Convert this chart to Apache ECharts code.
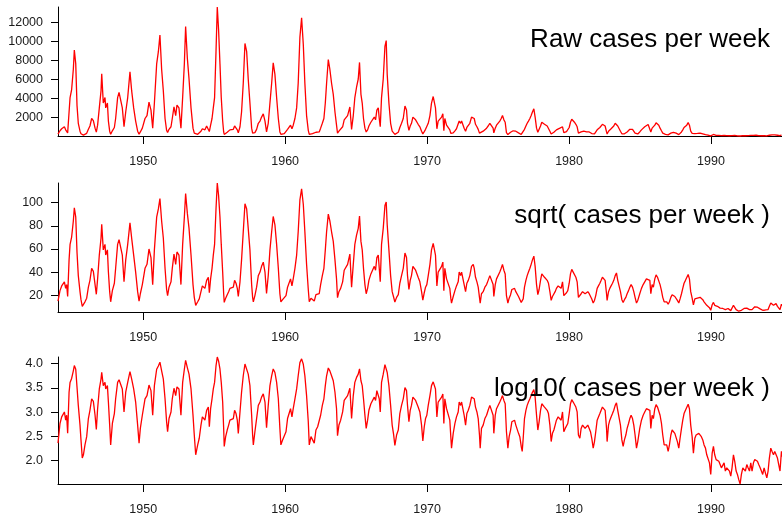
<!DOCTYPE html>
<html>
<head>
<meta charset="utf-8">
<script src="https://cdn.jsdelivr.net/npm/echarts@6/dist/echarts.min.js"></script>
<style>
  html, body { margin: 0; padding: 0; background: #fff; }
  #chart { width: 782px; height: 516px; }
</style>
</head>
<body>
<div id="chart"></div>
<script>
// weekly measles cases (decimal year, cases)
const years = [
  1944.00, 1944.14, 1944.26, 1944.38, 1944.45, 1944.54, 1944.61, 1944.68, 1944.78, 1944.85, 1944.96,
  1945.08, 1945.15, 1945.25, 1945.34, 1945.43, 1945.55, 1945.62, 1945.71, 1945.79, 1945.90,
  1946.02, 1946.14, 1946.25, 1946.37, 1946.49, 1946.61, 1946.70, 1946.79, 1946.91,
  1947.03, 1947.08, 1947.19, 1947.31, 1947.36, 1947.48, 1947.55, 1947.64, 1947.71, 1947.83, 1947.97,
  1948.06, 1948.20, 1948.30, 1948.41, 1948.53, 1948.65, 1948.77, 1948.91,
  1949.07, 1949.19, 1949.33, 1949.47, 1949.61, 1949.71, 1949.80, 1949.94,
  1950.13, 1950.27, 1950.41, 1950.55, 1950.67, 1950.79, 1950.95,
  1951.07, 1951.18, 1951.30, 1951.42, 1951.54, 1951.65, 1951.72, 1951.82, 1951.96,
  1952.05, 1952.17, 1952.29, 1952.38, 1952.52, 1952.66, 1952.78, 1952.90, 1952.99,
  1953.11, 1953.23, 1953.37, 1953.51, 1953.60, 1953.70, 1953.84, 1953.95,
  1954.07, 1954.17, 1954.35, 1954.47, 1954.59, 1954.66, 1954.75, 1954.85, 1954.94,
  1955.03, 1955.13, 1955.22, 1955.31, 1955.41, 1955.50, 1955.60, 1955.67, 1955.71, 1955.81, 1955.92,
  1956.02, 1956.11, 1956.23, 1956.35, 1956.44, 1956.54, 1956.63, 1956.70, 1956.82, 1956.93,
  1957.05, 1957.17, 1957.29, 1957.40, 1957.52, 1957.64, 1957.71, 1957.76, 1957.87, 1957.99,
  1958.11, 1958.23, 1958.34, 1958.46, 1958.58, 1958.69, 1958.81, 1958.93,
  1959.05, 1959.16, 1959.28, 1959.40, 1959.52, 1959.63, 1959.70, 1959.82, 1959.94,
  1960.06, 1960.17, 1960.29, 1960.38, 1960.48, 1960.57, 1960.69, 1960.81, 1960.92,
  1961.04, 1961.16, 1961.28, 1961.39, 1961.51, 1961.63, 1961.70, 1961.82, 1961.93,
  1962.05, 1962.17, 1962.29, 1962.40, 1962.50, 1962.62, 1962.73, 1962.83, 1962.92,
  1963.04, 1963.15, 1963.27, 1963.39, 1963.51, 1963.62, 1963.69, 1963.79, 1963.91,
  1964.05, 1964.16, 1964.28, 1964.40, 1964.56, 1964.68, 1964.80, 1964.91,
  1965.03, 1965.15, 1965.24, 1965.34, 1965.43, 1965.52, 1965.62, 1965.71, 1965.81, 1965.90,
  1966.04, 1966.18, 1966.28, 1966.37, 1966.46, 1966.56, 1966.63, 1966.70, 1966.79, 1966.91,
  1967.03, 1967.12, 1967.19, 1967.31, 1967.43, 1967.54, 1967.64, 1967.73, 1967.85, 1967.97,
  1968.08, 1968.20, 1968.32, 1968.44, 1968.55, 1968.62, 1968.72, 1968.81, 1968.90,
  1969.00, 1969.09, 1969.19, 1969.28, 1969.37, 1969.49, 1969.61, 1969.70, 1969.80, 1969.89, 1969.98,
  1970.08, 1970.20, 1970.31, 1970.43, 1970.50, 1970.59, 1970.69, 1970.78, 1970.90,
  1971.02, 1971.11, 1971.18, 1971.25, 1971.37, 1971.49, 1971.60, 1971.67, 1971.72, 1971.84, 1971.96,
  1972.07, 1972.19, 1972.26, 1972.36, 1972.43, 1972.52, 1972.61, 1972.71, 1972.80, 1972.90,
  1973.01, 1973.13, 1973.25, 1973.32, 1973.41, 1973.51, 1973.60, 1973.69, 1973.74, 1973.83, 1973.95,
  1974.07, 1974.19, 1974.30, 1974.42, 1974.54, 1974.65, 1974.70, 1974.80, 1974.89,
  1975.01, 1975.12, 1975.22, 1975.31, 1975.41, 1975.50, 1975.59, 1975.69, 1975.78, 1975.88, 1975.97,
  1976.06, 1976.16, 1976.25, 1976.34, 1976.44, 1976.53, 1976.63, 1976.70, 1976.77, 1976.86, 1976.96,
  1977.05, 1977.14, 1977.24, 1977.33, 1977.42, 1977.52, 1977.61, 1977.71, 1977.80, 1977.89, 1977.99,
  1978.08, 1978.18, 1978.27, 1978.36, 1978.46, 1978.55, 1978.65, 1978.74, 1978.83, 1978.93,
  1979.02, 1979.11, 1979.23, 1979.35, 1979.44, 1979.54, 1979.63, 1979.73, 1979.82, 1979.91,
  1980.01, 1980.10, 1980.19, 1980.29, 1980.38, 1980.48, 1980.57, 1980.66, 1980.76, 1980.85, 1980.95,
  1981.04, 1981.13, 1981.23, 1981.32, 1981.42, 1981.51, 1981.60, 1981.70, 1981.79, 1981.88, 1981.98,
  1982.07, 1982.17, 1982.26, 1982.35, 1982.45, 1982.54, 1982.64, 1982.68, 1982.78, 1982.87, 1982.96,
  1983.06, 1983.15, 1983.25, 1983.34, 1983.43, 1983.53, 1983.62, 1983.72, 1983.81, 1983.90,
  1984.00, 1984.09, 1984.19, 1984.28, 1984.37, 1984.47, 1984.56, 1984.65, 1984.75, 1984.84, 1984.98,
  1985.10, 1985.22, 1985.33, 1985.45, 1985.57, 1985.69, 1985.76, 1985.85, 1985.94,
  1986.04, 1986.13, 1986.23, 1986.32, 1986.41, 1986.51, 1986.60, 1986.70, 1986.79, 1986.88, 1986.98,
  1987.07, 1987.17, 1987.26, 1987.35, 1987.45, 1987.54, 1987.63, 1987.73, 1987.82, 1987.92,
  1988.01, 1988.10, 1988.20, 1988.29, 1988.39, 1988.48, 1988.57, 1988.67, 1988.76, 1988.86, 1988.95,
  1989.04, 1989.14, 1989.23, 1989.32, 1989.42, 1989.51, 1989.61, 1989.70, 1989.79, 1989.89, 1989.98,
  1990.08, 1990.17, 1990.26, 1990.36, 1990.45, 1990.55, 1990.64, 1990.73, 1990.83, 1990.92,
  1991.01, 1991.11, 1991.20, 1991.30, 1991.39, 1991.48, 1991.58, 1991.67, 1991.77, 1991.86, 1991.95,
  1992.05, 1992.14, 1992.24, 1992.33, 1992.42, 1992.52, 1992.61, 1992.71, 1992.80, 1992.89, 1992.99,
  1993.08, 1993.17, 1993.27, 1993.36, 1993.46, 1993.55, 1993.64, 1993.74, 1993.83, 1993.93,
  1994.02, 1994.11, 1994.21, 1994.30, 1994.40, 1994.49, 1994.58, 1994.68, 1994.77, 1994.86, 1994.96,
  1995.00
];
const cases = [
  229, 583, 796, 736, 1007, 681, 861, 365, 2565, 4090, 4940,
  7080, 9100, 7640, 3240, 1375, 540, 267, 113, 132, 211,
  312, 736, 1089, 1880, 1660, 861, 440, 1175, 3000,
  4790, 6600, 3510, 4090, 3000, 3510, 1610, 540, 211, 583, 931,
  1880, 4090, 4640, 4430, 3000, 1007, 2565, 4090,
  6800, 4790, 3000, 1610, 540, 229, 461, 861,
  1880, 2190, 3600, 2770, 861, 3510, 7640,
  8930, 10700, 7080, 4790, 1880, 631, 394, 736, 1007,
  1880, 3100, 2190, 3300, 3000, 861, 4090, 7640, 11600,
  8260, 6050, 3000, 861, 337, 132, 211, 289,
  540, 796, 681, 1089, 1270, 499, 1175, 1880, 3000,
  4090, 8930, 13650, 11300, 7640, 4090, 1610, 461, 196, 312, 427,
  540, 681, 631, 736, 1089, 931, 681, 365, 1007, 2565,
  5600, 9800, 8930, 6050, 3510, 861, 337, 211, 394, 736,
  1375, 1610, 2030, 2370, 1610, 476, 1375, 3510,
  5600, 7750, 6540, 4090, 1880, 461, 211, 267, 289,
  394, 736, 796, 1175, 796, 1175, 1880, 3000, 5600,
  10450, 12500, 9660, 5600, 2190, 631, 211, 312, 289,
  229, 427, 499, 461, 861, 1375, 1880, 3510, 5600,
  8100, 7080, 5600, 4430, 2565, 1175, 327, 540, 681,
  1007, 1740, 1880, 2190, 3100, 736, 2190, 4090,
  5180, 6050, 7800, 4430, 3510, 1880, 861, 461, 681, 1089,
  1485, 1610, 2030, 1740, 2770, 3000, 1880, 1007, 4090, 6050,
  9500, 10100, 6540, 3510, 1375, 540, 348, 205, 337, 427,
  931, 1375, 1880, 3200, 2770, 1375, 631, 1089, 1375,
  2030, 2030, 1740, 1610, 1270, 1007, 540, 255, 499, 736, 861,
  1375, 2190, 3510, 4200, 4090, 3000, 796, 1610, 1485,
  2030, 2370, 583, 1880, 1175, 1089, 681, 312, 181, 365, 583,
  796, 1007, 1610, 1375, 1610, 1556, 861, 540, 931, 1089,
  1375, 2030, 2190, 1880, 1270, 1007, 736, 337, 181, 461, 540,
  736, 861, 1089, 1375, 1375, 861, 365, 861, 1175,
  1270, 1610, 1880, 2190, 1740, 1485, 394, 181, 312, 427, 631,
  583, 681, 540, 499, 365, 312, 196, 155, 289, 736, 1089,
  1375, 1610, 1880, 2190, 2565, 2900, 2030, 861, 427, 631, 1089,
  1485, 1375, 1270, 1175, 1089, 931, 540, 247, 365, 427,
  540, 681, 796, 861, 681, 1007, 394, 461, 499, 583,
  931, 1485, 1800, 1610, 1485, 1270, 1007, 337, 289, 461, 540,
  540, 461, 461, 540, 461, 394, 289, 181, 247, 394, 681,
  796, 931, 1089, 1270, 1175, 1089, 461, 247, 540, 681, 796,
  931, 1089, 1375, 1550, 1089, 1007, 540, 267, 196, 267,
  337, 461, 583, 736, 861, 736, 540, 337, 181, 247, 461,
  681, 861, 1007, 1175, 1250, 1089, 461, 861, 736,
  1175, 1420, 1270, 1175, 861, 583, 337, 211, 211, 211, 155,
  211, 337, 427, 427, 365, 337, 247, 181, 289, 461,
  681, 931, 1089, 1175, 1450, 1175, 540, 312, 143, 289, 337,
  312, 365, 337, 312, 267, 211, 181, 132, 122, 90, 52,
  143, 196, 132, 105, 113, 97, 83, 71, 77, 90,
  61, 71, 77, 61, 48, 71, 132, 97, 61, 52, 41,
  33, 52, 71, 77, 61, 83, 71, 61, 90, 61, 90,
  105, 113, 97, 83, 71, 61, 52, 71, 56, 44,
  61, 113, 181, 155, 132, 155, 167, 113, 83, 61, 155,
  120
];

const yearTicks = [1950, 1960, 1970, 1980, 1990];
const rawTicks = [2000, 4000, 6000, 8000, 10000, 12000];
const sqrtTicks = [20, 40, 60, 80, 100];
const logTicks = [2.0, 2.5, 3.0, 3.5, 4.0];
const panelTitles = ["Raw cases per week", "sqrt( cases per week )", "log10( cases per week )"];

const rawData = years.map((t, i) => [t, cases[i]]);
const sqrtData = years.map((t, i) => [t, Math.sqrt(cases[i])]);
const logData = years.map((t, i) => [t, Math.log10(cases[i])]);

const chart = echarts.init(document.getElementById("chart"), null, { renderer: "canvas" });

const gridTops = [7, 183, 357];
const labelStyle = { color: "#1a1a1a", fontSize: 12.5, fontFamily: "Liberation Sans, Arial, sans-serif" };

const xAxes = gridTops.map((top, k) => ({
  type: "value",
  gridIndex: k,
  min: 1944,
  max: 1995,
  axisLine: { lineStyle: { color: "#000", width: 1 } },
  axisTick: { length: 8, customValues: yearTicks, lineStyle: { color: "#000" } },
  axisLabel: { ...labelStyle, margin: 19, customValues: yearTicks, formatter: (v) => String(v) },
  splitLine: { show: false },
}));

const yTickSets = [rawTicks, sqrtTicks, logTicks];
const yAxes = yTickSets.map((ticks, k) => ({
  type: "value",
  gridIndex: k,
  min: "dataMin",
  max: "dataMax",
  axisLine: { show: true, lineStyle: { color: "#000", width: 1 } },
  axisTick: { show: true, length: 7, customValues: ticks, lineStyle: { color: "#000" } },
  axisLabel: {
    ...labelStyle,
    margin: 15,
    customValues: ticks,
    formatter: (v) => (k === 2 ? v.toFixed(1) : String(v)),
  },
  splitLine: { show: false },
}));

const seriesData = [rawData, sqrtData, logData];

const option = {
  animation: false,
  backgroundColor: "#fff",
  title: panelTitles.map((text, k) => ({
    text: text,
    right: 12,
    top: [27, 203, 376][k],
    padding: 0,
    textStyle: { color: "#000", fontSize: 26, fontWeight: "normal", fontFamily: "Liberation Sans, Arial, sans-serif" },
  })),
  grid: gridTops.map((top) => ({ left: 58, right: 0, top: top, height: 129 })),
  xAxis: xAxes,
  yAxis: yAxes,
  series: seriesData.map((data, k) => ({
    type: "line",
    xAxisIndex: k,
    yAxisIndex: k,
    data: data,
    showSymbol: false,
    symbol: "none",
    clip: false,
    lineStyle: { color: "#ff0000", width: 1.3 },
  })),
};

chart.setOption(option);
</script>
</body>
</html>
